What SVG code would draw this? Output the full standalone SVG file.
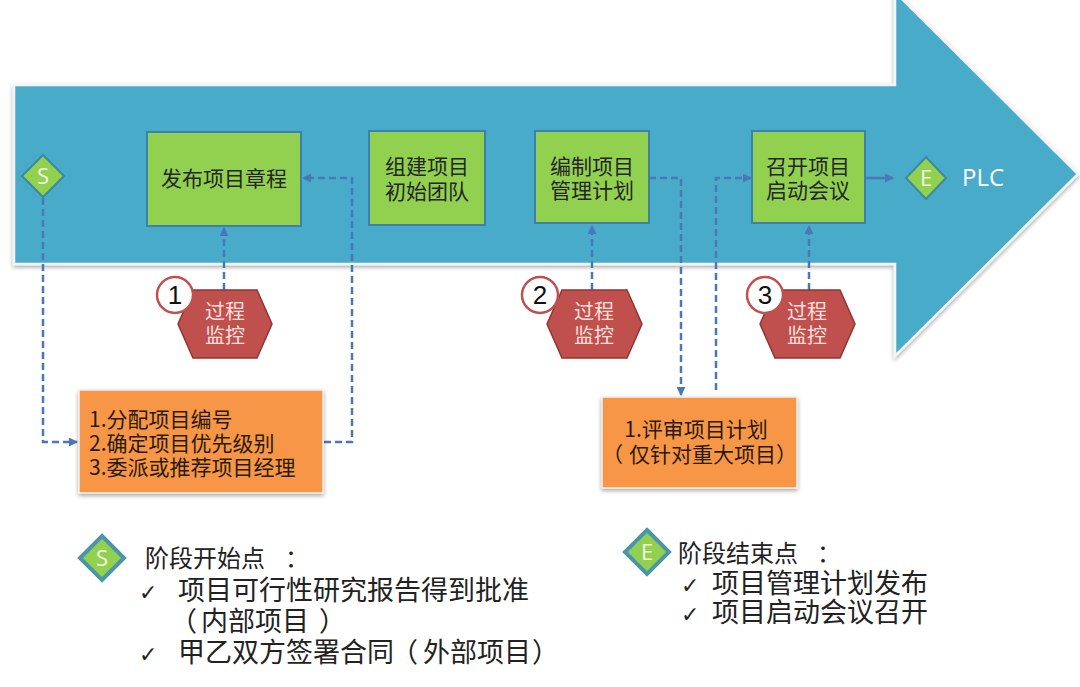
<svg xmlns="http://www.w3.org/2000/svg" width="1080" height="687" viewBox="0 0 1080 687">
<defs>
<style>
.cjk{font-family:"Noto Sans CJK SC","Noto Sans",sans-serif;}
.box{fill:#92D050;stroke:#3f7fae;stroke-width:2;}
.btxt{font-size:21px;fill:#262626;text-anchor:middle;}
.hex{fill:#C0504D;stroke:#8e3533;stroke-width:1.5;}
.htxt{font-size:20px;fill:#fbe0df;text-anchor:middle;}
.num{fill:#fff;stroke:#C0504D;stroke-width:2.5;}
.ntxt{font-family:"Liberation Sans",Arial,sans-serif;font-size:26px;fill:#111;text-anchor:middle;}
.org{fill:#F79646;stroke:#f0f0f0;stroke-width:1.5;}
.otxt{font-size:21px;fill:#2a1a0a;}
.dash{fill:none;stroke:#4a78b5;stroke-width:2.5;stroke-dasharray:7 4;}
.solid{fill:none;stroke:#4a78b5;stroke-width:2.5;}
.dia{fill:#92D050;stroke:#3e8a9c;stroke-width:2;}
.dia2{fill:#92D050;stroke:#4c95a8;stroke-width:4;}
.dtxt{font-family:"Open Sans","Liberation Sans",sans-serif;fill:#f4f8e0;text-anchor:middle;}
.leg{fill:#222;}
.chk{font-family:"DejaVu Sans",sans-serif;font-size:22px;fill:#222;}
</style>
<marker id="ah" markerUnits="userSpaceOnUse" markerWidth="9" markerHeight="9" refX="8" refY="4.5" orient="auto">
<path d="M0,0 L9,4.5 L0,9 z" fill="#4a78b5"/>
</marker>
<filter id="sh" x="-10%" y="-10%" width="120%" height="130%">
<feGaussianBlur in="SourceAlpha" stdDeviation="2"/>
<feOffset dx="0" dy="2"/>
<feComponentTransfer><feFuncA type="linear" slope="0.35"/></feComponentTransfer>
<feMerge><feMergeNode/><feMergeNode in="SourceGraphic"/></feMerge>
</filter>
</defs>
<rect width="1080" height="687" fill="#ffffff"/>

<g id="big-arrow">
<polygon points="14,85 895,85 895,-8 1078,174 895,356 895,264 14,264" fill="#4aabca" stroke="#f2f5f6" stroke-width="2.5" filter="url(#sh)"/>
</g>

<g id="connectors">
<path class="dash" d="M43,198 V442 H77" marker-end="url(#ah)"/>
<path class="dash" d="M324,442 H352 V178 H303" marker-end="url(#ah)"/>
<path class="dash" d="M224,290 V228" marker-end="url(#ah)"/>
<path class="dash" d="M649,178 H681 V395" marker-end="url(#ah)"/>
<path class="dash" d="M716,390 V178 H751" marker-end="url(#ah)"/>
<path class="dash" d="M592,290 V226" marker-end="url(#ah)"/>
<path class="dash" d="M809,290 V226" marker-end="url(#ah)"/>
<path class="solid" d="M866,178 H893" marker-end="url(#ah)"/>
</g>

<g id="start">
<polygon class="dia" points="43,155 64,176 43,197 22,176"/>
<text class="dtxt" x="43" y="184" font-size="22">S</text>
</g>

<g id="n1">
<rect class="box" x="147" y="132" width="154" height="94"/>
<text class="cjk btxt" x="224" y="186">发布项目章程</text>
</g>
<g id="n2">
<rect class="box" x="369" y="131" width="116" height="94"/>
<text class="cjk btxt" x="427" y="174">组建项目<tspan x="427" dy="25">初始团队</tspan></text>
</g>
<g id="n3">
<rect class="box" x="535" y="131" width="114" height="92"/>
<text class="cjk btxt" x="592" y="174">编制项目<tspan x="592" dy="24">管理计划</tspan></text>
</g>
<g id="n4">
<rect class="box" x="752" y="131" width="113" height="92"/>
<text class="cjk btxt" x="808" y="174">召开项目<tspan x="808" dy="24">启动会议</tspan></text>
</g>

<g id="end">
<polygon class="dia" points="926,157 946,178 926,199 906,178"/>
<text class="dtxt" x="926" y="186" font-size="22">E</text>
<text x="962" y="186" font-family="Open Sans,Liberation Sans,sans-serif" font-size="24" fill="#ffffff">PLC</text>
</g>

<g id="m1">
<polygon class="hex" points="178,324 193,290 257,290 272,324 257,358 193,358"/>
<text class="cjk htxt" x="225" y="319">过程<tspan x="225" dy="24">监控</tspan></text>
<circle class="num" cx="175" cy="295" r="18"/>
<text class="ntxt" x="175" y="304">1</text>
</g>
<g id="m2">
<polygon class="hex" points="547,324 562,290 627,290 642,324 627,358 562,358"/>
<text class="cjk htxt" x="594" y="319">过程<tspan x="594" dy="24">监控</tspan></text>
<circle class="num" cx="540" cy="295" r="18"/>
<text class="ntxt" x="540" y="304">2</text>
</g>
<g id="m3">
<polygon class="hex" points="760,324 775,290 840,290 855,324 840,358 775,358"/>
<text class="cjk htxt" x="807" y="319">过程<tspan x="807" dy="24">监控</tspan></text>
<circle class="num" cx="765" cy="295" r="18"/>
<text class="ntxt" x="765" y="304">3</text>
</g>

<g id="o1">
<rect class="org" x="79" y="390" width="244" height="103" filter="url(#sh)"/>
<text class="cjk otxt" x="89" y="427">1.分配项目编号<tspan x="89" dy="24">2.确定项目优先级别</tspan><tspan x="89" dy="24">3.委派或推荐项目经理</tspan></text>
</g>
<g id="o2">
<rect class="org" x="602" y="397" width="195" height="91" filter="url(#sh)"/>
<text class="cjk otxt" x="696" y="437" text-anchor="middle">1.评审项目计划</text>
<text class="cjk otxt" x="602" y="462">（<tspan dx="6">仅针对重大项目</tspan><tspan dx="0.01">）</tspan></text>
</g>

<g id="legend-start">
<polygon class="dia2" points="102,536 124,558 102,580 80,558"/>
<text class="dtxt" x="102" y="566" font-size="22">S</text>
<text class="cjk leg" x="145" y="567" font-size="24">阶段开始点<tspan dx="20">：</tspan></text>
<text class="chk" x="139" y="600">✓<tspan x="139" dy="62">✓</tspan></text>
<text class="cjk leg" x="178" y="600" font-size="27">项目可行性研究报告得到批准</text>
<text class="cjk leg" x="170" y="631" font-size="27">（<tspan dx="4">内部项目</tspan><tspan dx="10">）</tspan></text>
<text class="cjk leg" x="178" y="662" font-size="27">甲乙双方签署合同<tspan dx="-3">（</tspan><tspan dx="5">外部项目</tspan><tspan dx="1">）</tspan></text>
</g>
<g id="legend-end">
<polygon class="dia2" points="647,530 669,552 647,574 625,552"/>
<text class="dtxt" x="647" y="560" font-size="22">E</text>
<text class="cjk leg" x="678" y="562" font-size="24">阶段结束点<tspan dx="19">：</tspan></text>
<text class="chk" x="681" y="593">✓<tspan x="681" dy="29">✓</tspan></text>
<text class="cjk leg" x="712" y="593" font-size="27">项目管理计划发布<tspan x="712" dy="29">项目启动会议召开</tspan></text>
</g>
</svg>
